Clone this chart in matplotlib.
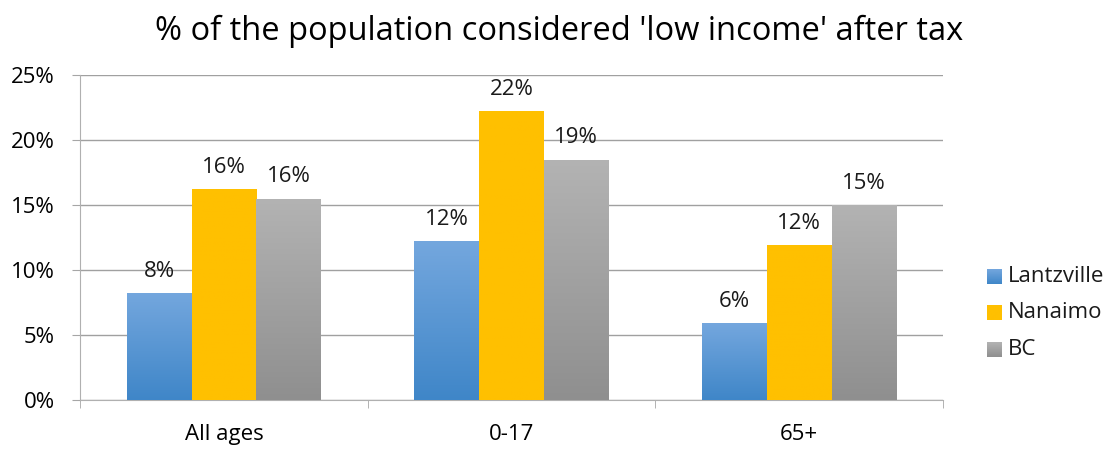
import numpy as np
import matplotlib
matplotlib.use("Agg")
import matplotlib.pyplot as plt
from matplotlib.colors import LinearSegmentedColormap

# values (percent)
groups = ["All ages", "0-17", "65+"]
series = ["Lantzville", "Nanaimo", "BC"]
lantzville = [8.25, 12.2, 5.9]
nanaimo = [16.2, 22.2, 11.9]
bc = [15.5, 18.5, 15.0]
labels = [["8%", "12%", "6%"], ["16%", "22%", "12%"], ["16%", "19%", "15%"]]

# top colour, bottom colour for each series
shades = [("#74a7de", "#3f86c8"), ("#ffc000", "#ffc000"), ("#b3b3b3", "#8f8f8f")]

plt.rcParams["font.family"] = ["Open Sans", "DejaVu Sans"]

fig = plt.figure(figsize=(11.18, 4.49), dpi=100)
ax = fig.add_axes([0.0716, 0.109, 0.8435 - 0.0716, 0.724])

x = np.arange(len(groups))
w = 0.225
grad = np.linspace(1, 0, 256).reshape(-1, 1)

for i, vals in enumerate([lantzville, nanaimo, bc]):
    cmap = LinearSegmentedColormap.from_list("g%d" % i, [shades[i][1], shades[i][0]])
    bars = ax.bar(x + (i - 1) * w, vals, w, color="none", zorder=3)
    for b, lab in zip(bars, labels[i]):
        x0, y0 = b.get_x(), b.get_y()
        img = ax.imshow(grad, cmap=cmap, aspect="auto", zorder=3,
                        extent=[x0, x0 + b.get_width(), y0, y0 + b.get_height()])
        img.set_clip_path(b)
        ax.annotate(lab, (x0 + b.get_width() / 2, b.get_height()), xytext=(0, 8),
                    textcoords="offset points", ha="center", va="bottom",
                    fontsize=16, color="#1a1a1a", zorder=4)

ax.set_xlim(-0.5, 2.5)
ax.set_ylim(0, 25)
ax.set_yticks(range(0, 26, 5))
ax.set_yticklabels(["%d%%" % v for v in range(0, 26, 5)], fontsize=16)
ax.set_xticks(x)
ax.set_xticklabels(groups, fontsize=16)
ax.set_xticks([-0.5, 0.5, 1.5, 2.5], minor=True)
ax.tick_params(axis="x", which="major", length=0, pad=17)
ax.tick_params(axis="x", which="minor", length=6, color="#a6a6a6", direction="out")
ax.tick_params(axis="y", length=6, color="#a6a6a6", pad=12)

ax.grid(axis="y", color="#a0a0a0", linewidth=1, zorder=0)
for s in ["top", "right"]:
    ax.spines[s].set_visible(False)
ax.spines["left"].set_color("#b0b0b0")
ax.spines["bottom"].set_color("#b0b0b0")

fig.suptitle("% of the population considered 'low income' after tax",
             fontsize=23.5, y=0.967, x=0.5)

# legend
for i, name in enumerate(series):
    yy = 0.385 - i * 0.082
    cmap = LinearSegmentedColormap.from_list("l%d" % i, [shades[i][1], shades[i][0]])
    lax = fig.add_axes([0.8828, yy - 0.0167, 0.0134, 0.0334])
    lax.imshow(grad, cmap=cmap, aspect="auto")
    lax.axis("off")
    fig.text(0.9015, yy, name, fontsize=16, va="center", ha="left", color="#1a1a1a")

fig.savefig("out.png", dpi=100)
